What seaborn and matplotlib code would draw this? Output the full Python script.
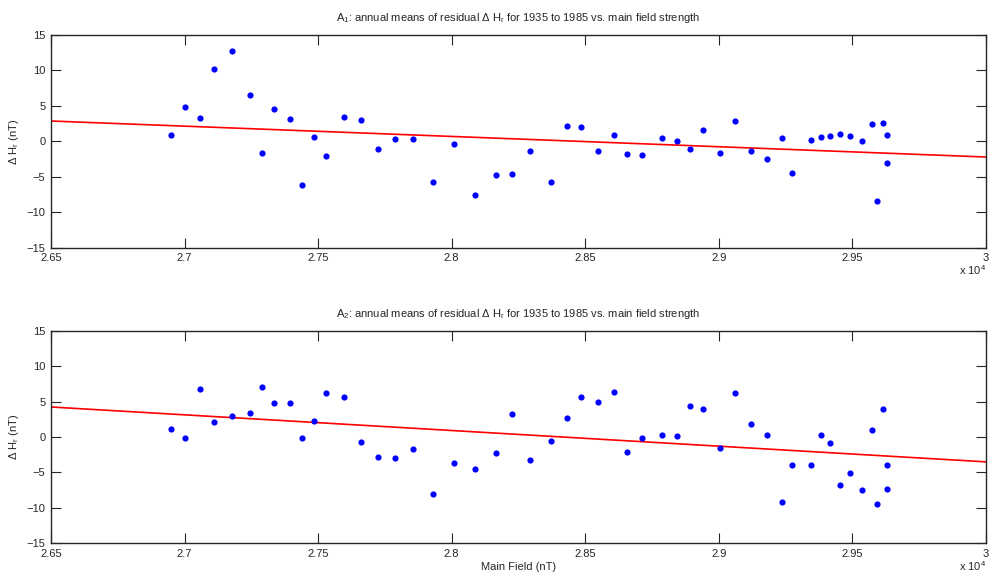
import numpy as np
import pandas as pd
import seaborn as sns
import matplotlib
matplotlib.use('Agg')
import matplotlib.pyplot as plt

# main field strength, in units of 1e4 nT (one value per year, 1935..1985)
main_field = [2.6949, 2.7002, 2.7059, 2.7109, 2.7177, 2.7244, 2.7291, 2.7336, 2.7394, 2.7438,
              2.7484, 2.7529, 2.7598, 2.7660, 2.7725, 2.7787, 2.7857, 2.7929, 2.8007, 2.8088,
              2.8167, 2.8225, 2.8293, 2.8372, 2.8431, 2.8485, 2.8546, 2.8606, 2.8657, 2.8714,
              2.8788, 2.8844, 2.8893, 2.8941, 2.9004, 2.9060, 2.9121, 2.9182, 2.9237, 2.9273,
              2.9344, 2.9383, 2.9417, 2.9455, 2.9490, 2.9536, 2.9574, 2.9591, 2.9614, 2.9629,
              2.9631]

# residual dH_r, station A1
dh_a1 = [0.9, 4.8, 3.3, 10.2, 12.8, 6.6, -1.7, 4.6, 3.1, -6.2,
         0.6, -2.0, 3.5, 3.0, -1.1, 0.3, 0.3, -5.8, -0.4, -7.6,
         -4.8, -4.6, -1.4, -5.8, 2.1, 2.0, -1.4, 0.9, -1.8, -1.9,
         0.4, 0.0, -1.1, 1.6, -1.7, 2.8, -1.3, -2.5, 0.4, -4.5,
         0.2, 0.6, 0.7, 1.1, 0.8, 0.0, 2.4, -8.4, 2.6, 0.9,
         -3.1]

# residual dH_r, station A2
dh_a2 = [1.1, -0.2, 6.8, 2.1, 3.0, 3.4, 7.0, 4.8, 4.8, -0.2,
         2.3, 6.2, 5.6, -0.7, -2.8, -2.9, -1.7, -8.0, -3.6, -4.5,
         -2.2, 3.3, -3.3, -0.5, 2.7, 5.7, 5.0, 6.3, -2.1, -0.1,
         0.3, 0.1, 4.4, 4.0, -1.5, 6.2, 1.8, 0.3, -9.1, -4.0,
         -4.0, 0.3, -0.9, -6.7, -5.1, -7.4, 1.0, -9.5, 4.0, -4.0,
         -7.3]

stations = ['A$_1$', 'A$_2$']
x_ticks = [2.65, 2.7, 2.75, 2.8, 2.85, 2.9, 2.95, 3.0]
x_labels = ['2.65', '2.7', '2.75', '2.8', '2.85', '2.9', '2.95', '3']
y_ticks = [-15, -10, -5, 0, 5, 10, 15]

sns.set_style('ticks')
plt.rcParams['font.family'] = ['Liberation Sans', 'DejaVu Sans']
plt.rcParams['font.size'] = 8
plt.rcParams['mathtext.fontset'] = 'custom'
plt.rcParams['mathtext.rm'] = 'Liberation Sans'
plt.rcParams['mathtext.default'] = 'regular'

fig = plt.figure(figsize=(9.92, 5.76), dpi=100)
ax1 = fig.add_axes([0.0514, 0.570, 0.9425, 0.3693])
ax2 = fig.add_axes([0.0514, 0.0566, 0.9425, 0.3693])

for ax, name, dh in [(ax1, stations[0], dh_a1), (ax2, stations[1], dh_a2)]:
    df = pd.DataFrame({'field': main_field, 'dh': dh})
    ax.set_xlim(2.65, 3.0)
    ax.set_ylim(-15, 15)
    sns.regplot(data=df, x='field', y='dh', ax=ax, scatter=False, ci=None,
                truncate=False, color='#ff0000', line_kws={'linewidth': 1.2})
    sns.scatterplot(data=df, x='field', y='dh', ax=ax, color='#0000ff',
                    s=20, linewidth=0, zorder=3)
    ax.set_xlim(2.65, 3.0)
    ax.set_ylim(-15, 15)
    ax.set_xticks(x_ticks)
    ax.set_xticklabels(x_labels)
    ax.set_yticks(y_ticks)
    ax.tick_params(direction='in', top=True, right=True, length=7, width=0.8,
                   labelsize=8, pad=4)
    for sp in ax.spines.values():
        sp.set_linewidth(1.0)
    ax.set_title(name + ': annual means of residual $\\Delta$ H$_r$ for 1935 to 1985 vs. main field strength',
                 fontsize=8, pad=10)
    ax.set_ylabel('$\\Delta$ H$_r$ (nT)', fontsize=8, labelpad=4)
    ax.set_xlabel('')
    ax.text(1.0, -0.075, 'x 10$^4$', transform=ax.transAxes, ha='right', va='top', fontsize=8)

ax2.set_xlabel('Main Field (nT)', fontsize=8, labelpad=2)

fig.savefig('out.png', dpi=100)
